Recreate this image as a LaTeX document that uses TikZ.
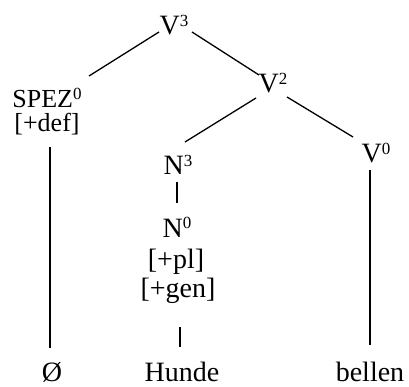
\documentclass[tikz,border=0pt]{standalone}
\usepackage{fontspec}
\setmainfont{Liberation Serif}
\usetikzlibrary{calc}
\newcommand\sx[1]{\raisebox{8.5pt}{\fontsize{17}{17}\selectfont #1}}
\begin{document}
\begin{tikzpicture}[x=1pt,y=-1pt,
  lbl/.style={anchor=base,inner sep=0pt,font=\fontsize{28}{28}\selectfont},
  small/.style={font=\fontsize{26}{26}\selectfont},
  edge/.style={line width=1.3pt}]
\useasboundingbox (0,0) rectangle (409,387);
\node[lbl] (V3) at (174,35) {V\sx{3}};
\node[lbl] (V2) at (273,93) {V\sx{2}};
\node[lbl,small] (SPEZ) at (47,108) {SPEZ\sx{0}};
\node[lbl,small] (def) at (47,132) {[+def]};
\node[lbl] (V0) at (376,163) {V\sx{0}};
\node[lbl] (N3) at (178,175) {N\sx{3}};
\node[lbl] (N0) at (177,237) {N\sx{0}};
\node[lbl] (pl) at (176,268) {[+pl]};
\node[lbl] (gen) at (178,297) {[+gen]};
\node[lbl] (O) at (52,381) {Ø};
\node[lbl] (Hunde) at (182,381) {Hunde};
\node[lbl] (bellen) at (370,381) {bellen};
\draw[edge] ($(V3.base)+(-15,-3)$) -- ($(SPEZ.base)+(42,-32)$);
\draw[edge] ($(V3.base)+(18,-3)$) -- ($(V2.base)+(-14,-18)$);
\draw[edge] ($(V2.base)+(-17,5)$) -- ($(N3.base)+(7,-33)$);
\draw[edge] ($(V2.base)+(14,4)$) -- ($(V0.base)+(-23,-26)$);
\draw[edge] ($(def.base)+(3,15)$) -- ($(O.base)+(-2,-33)$);
\draw[edge] ($(N3.base)+(-1,7)$) -- ($(N0.base)+(0,-34)$);
\draw[edge] ($(gen.base)+(2,30)$) -- ($(Hunde.base)+(-2,-34)$);
\draw[edge] ($(V0.base)+(-6,7)$) -- ($(bellen.base)+(0,-36)$);
\end{tikzpicture}
\end{document}
